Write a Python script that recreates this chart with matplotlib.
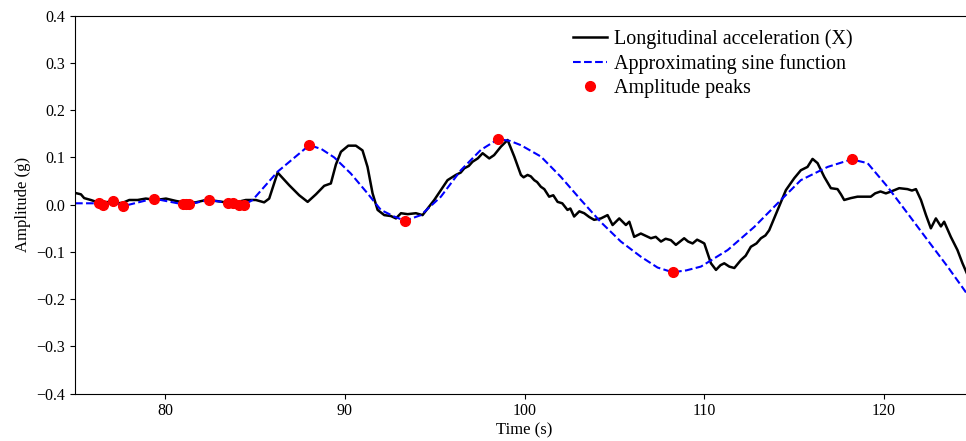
import matplotlib
matplotlib.use("Agg")
import matplotlib.pyplot as plt

plt.rcParams['font.family'] = ['Liberation Serif', 'DejaVu Serif']

time_s = [75.0, 75.33, 75.51, 75.88, 76.35, 76.9, 77.3, 77.65, 78.02, 78.48,
          78.94, 79.5, 80.06, 80.61, 81.17, 81.72, 82.28, 82.84, 83.39, 83.95,
          84.5, 85.06, 85.52, 85.8, 86.27, 86.92, 87.47, 87.94, 88.4, 88.86,
          89.23, 89.51, 89.79, 90.2, 90.62, 90.99, 91.27, 91.55, 91.83, 92.2,
          92.57, 92.85, 93.13, 93.5, 93.96, 94.33, 94.7, 94.98, 95.35, 95.72,
          96.18, 96.45, 96.65, 96.9, 97.11, 97.4, 97.67, 98.04, 98.31, 98.69,
          99.06, 99.43, 99.8, 99.95, 100.17, 100.35, 100.54, 100.7, 100.91,
          101.1, 101.37, 101.6, 101.84, 102.1, 102.39, 102.55, 102.76, 103.05,
          103.32, 103.6, 103.87, 104.25, 104.62, 104.9, 105.27, 105.64, 105.83,
          106.1, 106.47, 106.75, 107.03, 107.3, 107.59, 107.85, 108.14, 108.42,
          108.88, 109.1, 109.35, 109.6, 109.81, 110.0, 110.37, 110.65, 110.9,
          111.11, 111.39, 111.67, 112.04, 112.3, 112.59, 112.9, 113.15, 113.4,
          113.61, 114.08, 114.54, 115.0, 115.37, 115.74, 116.02, 116.3, 116.67,
          117.04, 117.41, 117.6, 117.78, 118.15, 118.52, 118.89, 119.26, 119.5,
          119.8, 120.1, 120.39, 120.84, 121.3, 121.55, 121.77, 122.05, 122.33,
          122.6, 122.88, 123.16, 123.34, 123.71, 124.08, 124.36, 124.6]
accel_x = [0.025, 0.022, 0.014, 0.010, 0.004, 0.006, 0.003, 0.004, 0.010, 0.010,
           0.013, 0.010, 0.013, 0.008, 0.004, 0.005, 0.010, 0.008, 0.005, 0.005,
           0.010, 0.010, 0.005, 0.013, 0.068, 0.041, 0.020, 0.006, 0.022, 0.040,
           0.045, 0.085, 0.112, 0.125, 0.125, 0.115, 0.080, 0.024, -0.011, -0.022,
           -0.024, -0.029, -0.018, -0.020, -0.018, -0.022, -0.004, 0.010, 0.031, 0.052,
           0.063, 0.068, 0.077, 0.082, 0.091, 0.098, 0.109, 0.098, 0.105, 0.123,
           0.137, 0.102, 0.063, 0.058, 0.063, 0.060, 0.052, 0.048, 0.038,
           0.033, 0.017, 0.020, 0.006, 0.003, -0.011, -0.008, -0.025, -0.014,
           -0.018, -0.026, -0.032, -0.029, -0.022, -0.043, -0.029, -0.043, -0.036,
           -0.068, -0.061, -0.066, -0.071, -0.068, -0.078, -0.072, -0.075, -0.085,
           -0.071, -0.078, -0.082, -0.074, -0.078, -0.082, -0.124, -0.138, -0.128,
           -0.124, -0.131, -0.134, -0.117, -0.108, -0.089, -0.082, -0.071, -0.065,
           -0.054, -0.011, 0.031, 0.056, 0.073, 0.080, 0.097, 0.088, 0.059,
           0.035, 0.033, 0.022, 0.010, 0.014, 0.017, 0.017, 0.017, 0.024,
           0.028, 0.024, 0.028, 0.035, 0.033, 0.030, 0.033, 0.010, -0.022,
           -0.050, -0.029, -0.046, -0.036, -0.068, -0.096, -0.124, -0.145]

# Approximating sine function
sine_t = [75.0, 76.35, 76.54, 77.12, 77.68, 79.37, 80.98, 81.35, 82.43, 83.49,
          83.8, 84.13, 84.41, 84.88, 86.27, 88.03, 88.7, 89.42, 90.34, 91.27,
          92.01, 92.75, 93.35, 94.24, 95.35, 96.46, 97.57, 98.54, 99.2, 99.8,
          100.91, 102.02, 103.14, 104.25, 105.36, 106.47, 107.4, 108.24, 109.0,
          109.81, 111.3, 112.78, 114.26, 115.37, 116.86, 118.19, 119.08, 120.19,
          121.3, 122.42, 123.53, 124.6, 125.0]
sine_a = [0.003, 0.003, -0.001, 0.008, -0.003, 0.013, 0.001, 0.001, 0.010, 0.004,
          0.004, -0.001, 0.000, 0.010, 0.070, 0.126, 0.118, 0.100, 0.066, 0.024,
          -0.011, -0.025, -0.034, -0.022, 0.017, 0.073, 0.116, 0.139, 0.135, 0.126,
          0.102, 0.059, 0.010, -0.037, -0.078, -0.110, -0.133, -0.143, -0.139,
          -0.131, -0.096, -0.047, 0.010, 0.052, 0.080, 0.096, 0.088, 0.038,
          -0.018, -0.075, -0.131, -0.188, -0.200]

# Amplitude peaks
peak_t = [76.35, 76.54, 77.12, 77.68, 79.37, 80.98, 81.2, 81.35, 82.43, 83.49,
          83.8, 84.13, 84.41, 88.03, 93.35, 98.54, 108.24, 118.19]
peak_a = [0.003, -0.001, 0.008, -0.003, 0.013, 0.001, 0.001, 0.001, 0.010, 0.004,
          0.004, -0.001, 0.000, 0.126, -0.034, 0.139, -0.143, 0.096]

fig = plt.figure(figsize=(9.66, 4.41), dpi=100)
ax = fig.add_axes([75 / 966, 0.1073, 899 / 966, 0.857])

ax.plot(time_s, accel_x, color="black", lw=1.8, label="Longitudinal acceleration (X)")
ax.plot(sine_t, sine_a, color="blue", ls="--", lw=1.5, label="Approximating sine function")
ax.plot(peak_t, peak_a, "o", color="red", ms=7, label="Amplitude peaks")

ax.set_xlim(75, 125)
ax.set_ylim(-0.4, 0.4)
ax.set_xticks([80, 90, 100, 110, 120])
ax.set_yticks([-0.4, -0.3, -0.2, -0.1, 0.0, 0.1, 0.2, 0.3, 0.4])
ax.tick_params(labelsize=11.5)
ax.set_xlabel("Time (s)", fontsize=12, labelpad=2)
ax.set_ylabel("Amplitude (g)", fontsize=12)

ax.legend(loc="upper left", bbox_to_anchor=(0.534, 1.013), frameon=False,
          fontsize=14.5, handlelength=1.7, handletextpad=0.35, labelspacing=0.25)

fig.savefig("out.png", dpi=100)
